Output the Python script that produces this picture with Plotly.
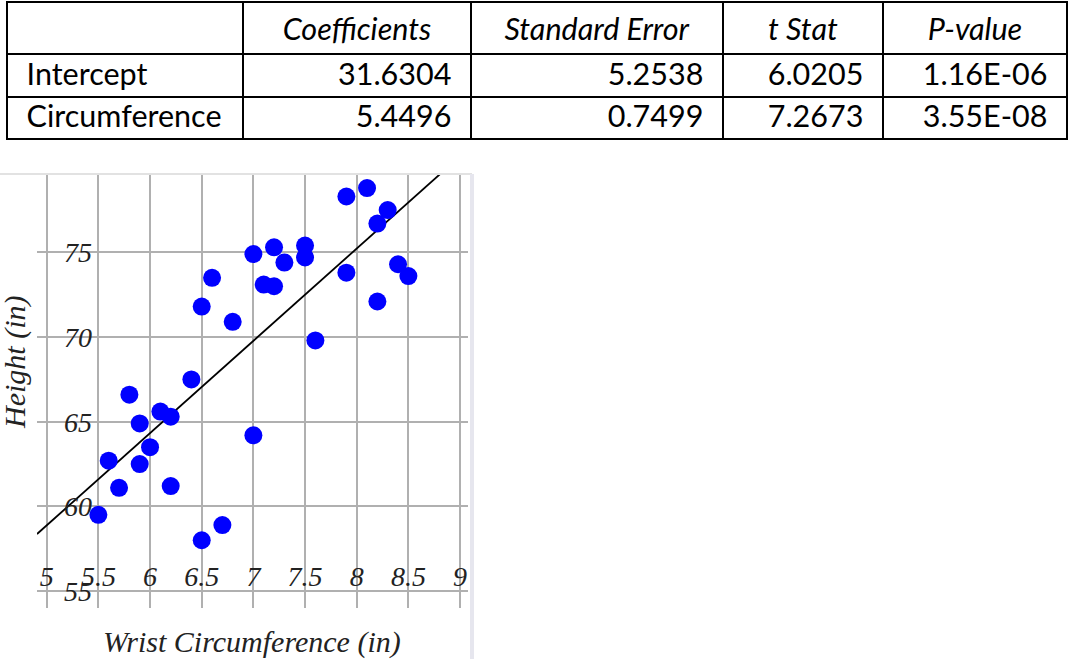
import plotly.graph_objects as go

# regression output table
row_names = ["Intercept", "Circumference"]
col_names = ["Coefficients", "Standard Error", "t Stat", "P-value"]
coefficients = ["31.6304", "5.4496"]
std_error = ["5.2538", "0.7499"]
t_stat = ["6.0205", "7.2673"]
p_value = ["1.16E-06", "3.55E-08"]

intercept = 31.6304
slope = 5.4496

# scatter data
wrist = [7.9, 8.1, 8.3, 8.2, 8.4, 8.5, 8.2, 7.9, 7.0,
         7.0, 7.2, 7.3, 7.5, 7.5, 6.6, 6.5, 6.8, 7.1, 7.2, 7.6,
         6.4, 5.8, 6.1, 6.2, 5.9, 6.0, 5.6, 5.9, 5.7, 6.2, 5.5, 6.5, 6.7]
height = [78.3, 78.8, 77.5, 76.7, 74.3, 73.6, 72.1, 73.8, 64.2,
          74.9, 75.3, 74.4, 75.4, 74.7, 73.5, 71.8, 70.9, 73.1, 73.0, 69.8,
          67.5, 66.6, 65.6, 65.3, 64.9, 63.5, 62.7, 62.5, 61.1, 61.2, 59.5, 58.0, 58.9]

x_range = [4.906, 9.077]
y_range = [54.0, 79.57]

W, H = 1072, 659
pad = "\u00a0\u2009"

fig = go.Figure()

fig.add_trace(go.Table(
    domain=dict(x=[7 / W, 1067 / W], y=[(H - 140) / H, (H - 2) / H]),
    columnwidth=[236, 228, 252, 160, 184],
    header=dict(
        values=[""] + ["<i>" + c + "</i>" for c in col_names],
        align="center",
        height=49,
        fill_color="white",
        line=dict(color="black", width=2),
        font=dict(family="Lato", size=30.5, color="black"),
    ),
    cells=dict(
        values=[[pad + r for r in row_names],
                [v + pad for v in coefficients],
                [v + pad for v in std_error],
                [v + pad for v in t_stat],
                [v + pad for v in p_value]],
        align=["left", "right", "right", "right", "right"],
        height=42.5,
        fill_color="white",
        line=dict(color="black", width=2),
        font=dict(family="Lato", size=30.5, color="black"),
    ),
))

fig.add_trace(go.Scatter(
    x=x_range,
    y=[intercept + slope * v for v in x_range],
    mode="lines",
    line=dict(color="black", width=1.8),
    hoverinfo="skip",
))

fig.add_trace(go.Scatter(
    x=wrist, y=height,
    mode="markers",
    marker=dict(color="#0000ff", size=18, line=dict(width=0)),
))

serif = "Liberation Serif"
fig.update_layout(
    width=W, height=H,
    margin=dict(l=0, r=0, t=0, b=0),
    paper_bgcolor="white",
    plot_bgcolor="white",
    showlegend=False,
    xaxis=dict(
        domain=[37 / W, 468 / W], range=x_range,
        tick0=5, dtick=0.5, automargin=False,
        showgrid=True, gridcolor="#b0b0b0", gridwidth=1.5,
        zeroline=False, showline=False, ticks="",
        ticklabelstandoff=-51,
        tickfont=dict(family=serif, size=28, color="#222", style="italic"),
    ),
    yaxis=dict(
        domain=[(H - 608) / H, (H - 175) / H], range=y_range,
        tick0=55, dtick=5, automargin=False,
        showgrid=True, gridcolor="#b0b0b0", gridwidth=1.5,
        zeroline=False, showline=False, ticks="",
        ticklabelstandoff=-56,
        tickfont=dict(family=serif, size=28, color="#222", style="italic"),
    ),
    annotations=[
        dict(text="Wrist Circumference (in)", xref="paper", yref="paper",
             x=252 / W, y=(H - 642) / H, xanchor="center", yanchor="middle",
             showarrow=False,
             font=dict(family=serif, size=30, color="#222", style="italic")),
        dict(text="Height (in)", xref="paper", yref="paper", textangle=-90,
             x=15 / W, y=(H - 363) / H, xanchor="center", yanchor="middle",
             showarrow=False,
             font=dict(family=serif, size=30, color="#222", style="italic")),
    ],
    shapes=[
        dict(type="line", xref="paper", yref="paper",
             x0=0, x1=472 / W, y0=(H - 174) / H, y1=(H - 174) / H,
             line=dict(color="#e2e2e2", width=2)),
        dict(type="line", xref="paper", yref="paper",
             x0=472 / W, x1=472 / W, y0=0, y1=(H - 174) / H,
             line=dict(color="#e6e6ee", width=4)),
    ],
)

fig.write_html("out.html", config={"displayModeBar": False},
               post_script="document.body.style.margin='0px';")
